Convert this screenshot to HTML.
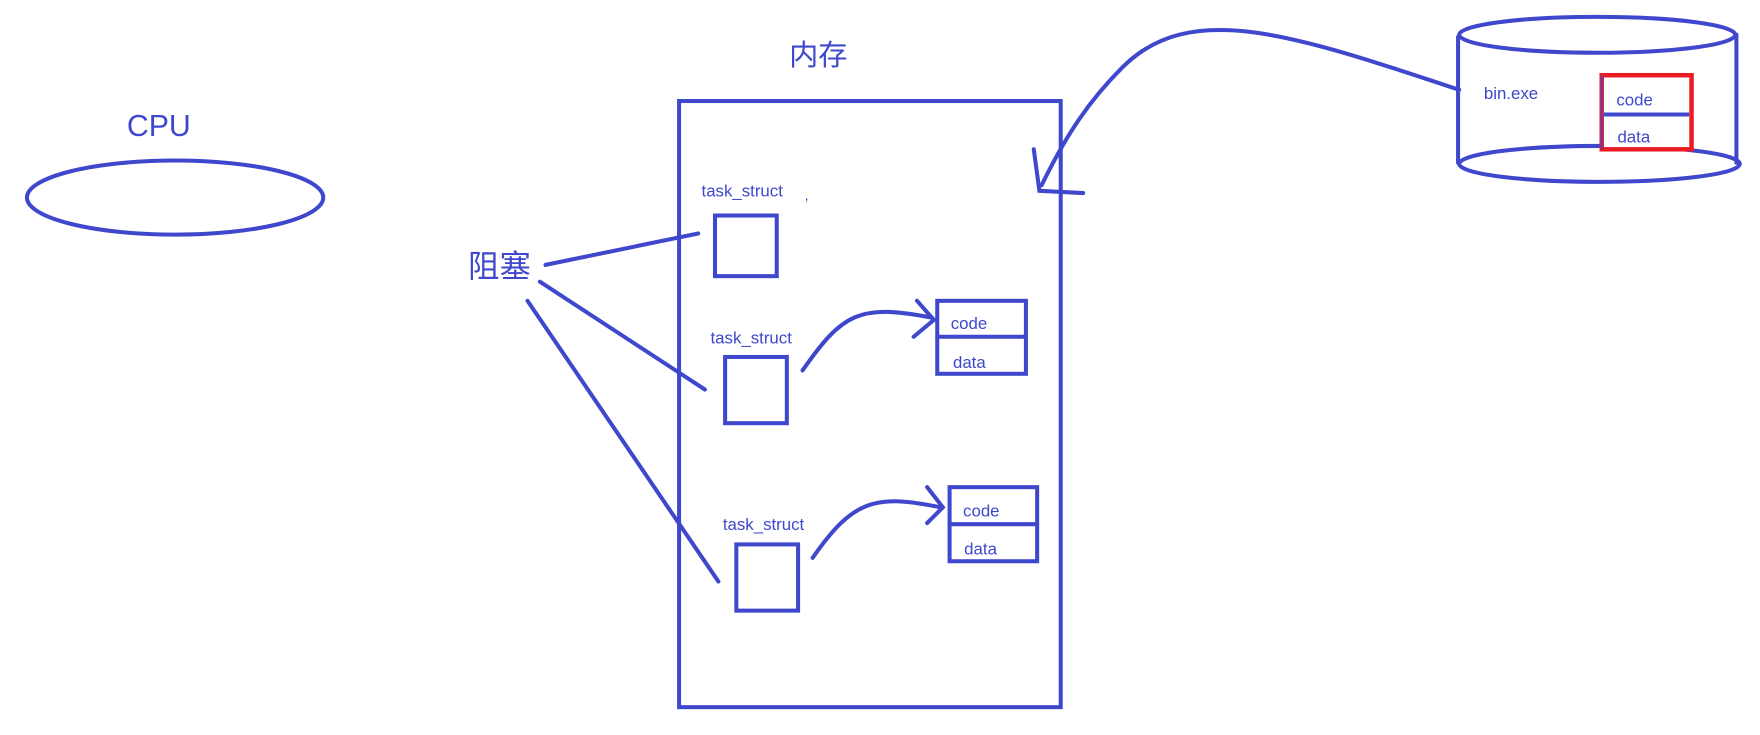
<!DOCTYPE html>
<html><head><meta charset="utf-8"><style>
html,body{margin:0;padding:0;background:#fff;width:1760px;height:735px;overflow:hidden}
svg{display:block}
text{font-family:"Liberation Sans","Noto Sans CJK SC",sans-serif;fill:#3f48cc}
</style></head><body>
<svg width="1760" height="735" viewBox="0 0 1568 654.8" preserveAspectRatio="none">
<g fill="none" stroke="#3f48cc" stroke-width="3.6" stroke-linecap="round">
<ellipse cx="156" cy="176" rx="132" ry="33"/>
<rect x="605" y="90" width="340" height="540"/>
<rect x="637" y="192" width="55" height="54"/>
<rect x="646" y="318" width="55" height="59"/>
<rect x="656" y="485" width="55" height="59"/>
<line x1="486" y1="236" x2="622" y2="208"/>
<line x1="481" y1="251" x2="628" y2="347"/>
<line x1="470" y1="268" x2="640" y2="518"/>
<rect x="835" y="268" width="79" height="65"/>
<line x1="835" y1="300" x2="914" y2="300"/>
<rect x="846" y="434" width="78" height="66"/>
<line x1="846" y1="467" x2="924" y2="467"/>
<path d="M715,330 C750,280 765,270 830,283"/>
<path d="M817,268 L832,285 L814,300"/>
<path d="M724,497 C760,445 780,440 838,452"/>
<path d="M826,434 L840,452 L826,466"/>
<path d="M1300,80 C1150,30 1060,0 1000,60 C970,90 950,120 928,165"/>
<path d="M921,133 L926,170 L965,172"/>
<ellipse cx="1423" cy="31" rx="123" ry="16"/>
<line x1="1299" y1="33" x2="1299" y2="145"/>
<line x1="1547" y1="31" x2="1547" y2="145"/>
<ellipse cx="1425" cy="146" rx="125" ry="16"/>
</g>
<rect x="1427" y="67" width="80" height="66" fill="#fff" stroke="#ed1c24" stroke-width="4"/>
<line x1="1429" y1="102" x2="1505" y2="102" stroke="#3f48cc" stroke-width="3.6"/>
<line x1="1427" y1="67" x2="1427" y2="133" stroke="#3f48cc" stroke-width="1.5"/>
<text x="113" y="121" font-size="27">CPU</text>
<text x="703" y="58" font-size="26">内存</text>
<text x="417" y="247" font-size="28">阻塞</text>
<text x="625" y="175" font-size="15">task_struct</text>
<text x="717" y="178" font-size="12">,</text>
<text x="633" y="306" font-size="15">task_struct</text>
<text x="644" y="472" font-size="15">task_struct</text>
<text x="847" y="293" font-size="15">code</text>
<text x="849" y="328" font-size="15">data</text>
<text x="858" y="460" font-size="15">code</text>
<text x="859" y="494" font-size="15">data</text>
<text x="1322" y="88" font-size="15">bin.exe</text>
<text x="1440" y="94" font-size="15">code</text>
<text x="1441" y="127" font-size="15">data</text>
</svg>
</body></html>
